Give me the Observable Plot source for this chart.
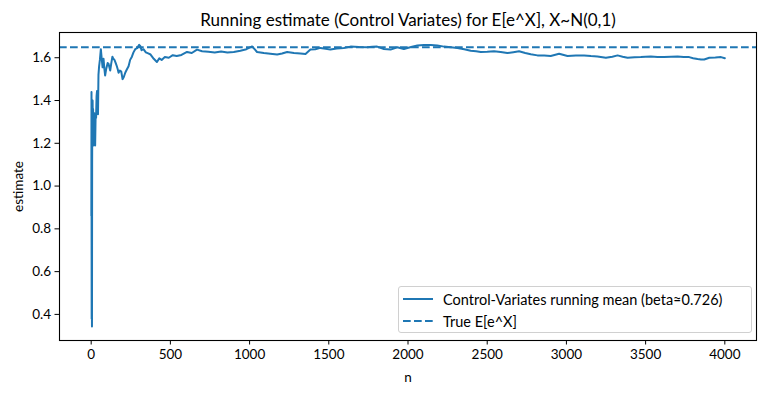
<!DOCTYPE html>
<html>
<head>
<meta charset="utf-8">
<script src="https://cdn.jsdelivr.net/npm/d3@7"></script>
<script src="https://cdn.jsdelivr.net/npm/@observablehq/plot@0.6"></script>
<style>
  html, body { margin: 0; padding: 0; background: #fff; }
  #wrap { position: relative; width: 766px; height: 393px; font-family: Lato, "DejaVu Sans", sans-serif; }
  #legend {
    position: absolute; left: 398px; top: 286px; width: 354px; height: 47px;
    border: 1px solid #d0d0d0; border-radius: 3px; background: rgba(255,255,255,0.8);
    box-sizing: border-box; font-size: 14.5px; color: #000;
  }
  .row { position: absolute; left: 0; height: 20px; display: flex; align-items: center; }
  .row svg { margin-left: 4px; margin-right: 10px; }
</style>
</head>
<body>
<div id="wrap">
  <div id="chart"></div>
  <div id="legend">
    <div class="row" style="top:2px"><svg width="30" height="4"><line x1="0" x2="30" y1="2" y2="2" stroke="#1f77b4" stroke-width="2"/></svg><span id="lab1"></span></div>
    <div class="row" style="top:24px"><svg width="30" height="4"><line x1="0" x2="30" y1="2" y2="2" stroke="#1f77b4" stroke-width="2" stroke-dasharray="7.7,3.3"/></svg><span id="lab2"></span></div>
  </div>
</div>
<script>
const title = "Running estimate (Control Variates) for E[e^X], X~N(0,1)";
const xLabel = "n";
const yLabel = "estimate";
const seriesLabel = "Control-Variates running mean (beta\u22480.726)";
const trueLabel = "True E[e^X]";
const trueValue = Math.exp(0.5);
const xTicks = [0, 500, 1000, 1500, 2000, 2500, 3000, 3500, 4000];
const yTicks = [0.4, 0.6, 0.8, 1.0, 1.2, 1.4, 1.6];

const nValues = [1,2,3,4,5,6,7,8,9,10,12,14,16,18,20,22,25,28,31,34,37,40,43,46,50,55,61,66,72,78,83,88,94,99,104,109,115,120,127,134,140,147,155,162,168,173,181,190,198,206,215,225,236,246,257,267,278,290,303,310,318,330,345,360,375,395,415,430,445,465,490,515,540,570,605,635,668,700,740,780,820,860,900,942,980,1016,1047,1090,1131,1174,1205,1237,1280,1321,1353,1384,1415,1447,1480,1510,1550,1595,1637,1690,1742,1775,1805,1848,1890,1932,1974,2020,2059,2100,2143,2185,2227,2270,2312,2355,2396,2430,2459,2500,2543,2585,2627,2665,2701,2740,2775,2817,2860,2901,2954,3007,3060,3112,3155,3196,3249,3290,3323,3355,3386,3430,3470,3500,3533,3575,3617,3660,3702,3740,3775,3800,3828,3850,3870,3902,3940,3976,4000];

const estimates = [0.86,1.44,0.38,0.72,0.344,1.10,1.31,1.22,1.40,1.30,1.36,1.19,1.33,1.26,1.34,1.31,1.19,1.33,1.32,1.42,1.445,1.40,1.336,1.52,1.56,1.59,1.64,1.60,1.555,1.595,1.55,1.517,1.545,1.56,1.575,1.573,1.555,1.54,1.575,1.605,1.595,1.59,1.575,1.56,1.545,1.53,1.54,1.535,1.50,1.51,1.53,1.545,1.56,1.59,1.605,1.625,1.64,1.645,1.66,1.655,1.635,1.64,1.625,1.62,1.615,1.595,1.58,1.597,1.59,1.603,1.60,1.612,1.608,1.613,1.627,1.622,1.638,1.63,1.628,1.625,1.629,1.624,1.627,1.633,1.64,1.653,1.627,1.622,1.619,1.615,1.62,1.627,1.622,1.62,1.617,1.638,1.64,1.646,1.642,1.638,1.643,1.646,1.652,1.65,1.649,1.651,1.652,1.641,1.638,1.649,1.641,1.65,1.657,1.659,1.66,1.657,1.652,1.649,1.646,1.64,1.633,1.63,1.627,1.628,1.63,1.627,1.622,1.626,1.63,1.622,1.616,1.611,1.61,1.608,1.619,1.608,1.61,1.611,1.608,1.606,1.60,1.605,1.611,1.605,1.60,1.602,1.603,1.605,1.606,1.604,1.603,1.605,1.606,1.604,1.603,1.598,1.594,1.592,1.592,1.60,1.601,1.603,1.598];

const data = nValues.map((n, i) => ({n, est: estimates[i]}));
const blue = "#1f77b4";

const chart = Plot.plot({
  width: 766,
  height: 393,
  marginLeft: 59,
  marginRight: 10,
  marginTop: 32,
  marginBottom: 53,
  style: {fontFamily: "Lato, 'DejaVu Sans', sans-serif", fontSize: "13.5px", color: "#000", background: "#fff"},
  x: {domain: [-200, 4200]},
  y: {domain: [0.278, 1.718]},
  marks: [
    Plot.axisX({ticks: xTicks, tickSize: 4.5, tickPadding: 4, tickFormat: d3.format("d"), label: xLabel, labelAnchor: "center", labelArrow: "none", labelOffset: 41, fontSize: 13.5}),
    Plot.axisY({ticks: yTicks, tickSize: 4.5, tickPadding: 4, tickFormat: d3.format(".1f"), label: yLabel, labelAnchor: "center", labelArrow: "none", labelOffset: 46, fontSize: 13.5}),
    Plot.line(data, {x: "n", y: "est", stroke: blue, strokeWidth: 2}),
    Plot.ruleY([trueValue], {stroke: blue, strokeWidth: 2, strokeDasharray: "7.7,3.3"}),
    Plot.frame({stroke: "#000", strokeWidth: 1.1}),
    Plot.text([title], {frameAnchor: "top", dy: -12, fontSize: 17, lineAnchor: "middle"})
  ]
});
document.getElementById("chart").appendChild(chart);
document.getElementById("lab1").textContent = seriesLabel;
document.getElementById("lab2").textContent = trueLabel;
</script>
</body>
</html>
